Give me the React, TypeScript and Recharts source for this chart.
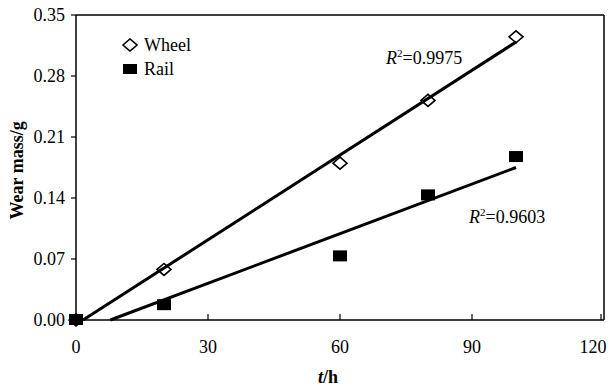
import { ComposedChart, Scatter, XAxis, YAxis, ReferenceLine } from 'recharts';

// time on test (h) and measured wear mass (g)
const wheelHours = [0, 20, 60, 80, 100];
const wheelMass = [0, 0.058, 0.18, 0.252, 0.325];
const railHours = [0, 20, 60, 80, 100];
const railMass = [0, 0.017, 0.073, 0.143, 0.187];

// linear fit end points
const wheelFitHours = [1.6, 100];
const wheelFitMass = [0, 0.319];
const railFitHours = [7.8, 100];
const railFitMass = [0, 0.175];

const tTicks = [0, 30, 60, 90, 120];
const massTicks = [0, 0.07, 0.14, 0.21, 0.28, 0.35];

const wheelR2 = '0.9975';
const railR2 = '0.9603';

const toPoints = (xs: number[], ys: number[]) => xs.map((t, i) => ({ t, m: ys[i] }));

const wheelData = toPoints(wheelHours, wheelMass);
const railData = toPoints(railHours, railMass);
const wheelFit = toPoints(wheelFitHours, wheelFitMass);
const railFit = toPoints(railFitHours, railFitMass);

const FONT = 'Liberation Serif';
const FS = 18;

const Diamond = ({ cx, cy }: any) => (
  <polygon
    points={`${cx - 7},${cy} ${cx},${cy - 6} ${cx + 7},${cy} ${cx},${cy + 6}`}
    fill="#fff"
    stroke="#000"
    strokeWidth={1.6}
  />
);

const Square = ({ cx, cy }: any) => <rect x={cx - 7} y={cy - 6} width={14} height={11} fill="#000" />;

// last label sits slightly left so it stays inside the picture
const XTick = ({ x, y, payload, index }: any) => (
  <g>
    <line x1={x} y1={y} x2={x} y2={y - 6} stroke="#000" strokeWidth={1.2} />
    <text
      x={index === tTicks.length - 1 ? x - 8 : x}
      y={y + 33}
      textAnchor="middle"
      fontSize={FS}
      fontFamily={FONT}
      fill="#000"
    >
      {payload.value}
    </text>
  </g>
);

const LegendBox = () => (
  <div
    style={{
      position: 'absolute',
      left: 122,
      top: 33,
      fontFamily: FONT,
      fontSize: FS,
      color: '#000',
      lineHeight: '24px',
    }}
  >
    <div style={{ display: 'flex', alignItems: 'center' }}>
      <svg width={16} height={14} style={{ marginRight: 6 }}>
        <polygon points="1,7 8,1 15,7 8,13" fill="#fff" stroke="#000" strokeWidth={1.6} />
      </svg>
      Wheel
    </div>
    <div style={{ display: 'flex', alignItems: 'center' }}>
      <svg width={16} height={14} style={{ marginRight: 6 }}>
        <rect x={1} y={2} width={14} height={10} fill="#000" />
      </svg>
      Rail
    </div>
  </div>
);

const R2 = ({ value, left, top }: { value: string; left: number; top: number }) => (
  <div style={{ position: 'absolute', left, top, fontFamily: FONT, fontSize: FS, color: '#000', lineHeight: '20px' }}>
    <i>R</i>
    <span style={{ fontSize: 11, verticalAlign: 7 }}>2</span>={value}
  </div>
);

export default function App() {
  return (
    <div style={{ position: 'absolute', left: 0, top: 0, width: 613, height: 388, background: '#fff' }}>
      <ComposedChart width={613} height={388} margin={{ top: 15, right: 9, bottom: 0, left: 0 }}>
        <XAxis
          type="number"
          dataKey="t"
          domain={[0, 120]}
          ticks={tTicks}
          tickSize={0}
          tickMargin={0}
          tick={<XTick />}
          height={68}
          axisLine={{ stroke: '#000', strokeWidth: 1.5 }}
          label={{
            value: 't/h',
            content: ({ viewBox }: any) => (
              <text
                x={viewBox.x + viewBox.width / 2 - 22}
                y={viewBox.y + 63}
                fontSize={FS}
                fontFamily={FONT}
                fontWeight="bold"
                fill="#000"
              >
                <tspan fontStyle="italic">t</tspan>/h
              </text>
            ),
          }}
        />
        <YAxis
          type="number"
          dataKey="m"
          domain={[0, 0.35]}
          ticks={massTicks}
          tickFormatter={(v: number) => v.toFixed(2)}
          width={76}
          tickSize={5}
          tickMargin={6}
          tickLine={{ stroke: '#000', strokeWidth: 1.2 }}
          axisLine={{ stroke: '#000', strokeWidth: 1.5 }}
          tick={{ fill: '#000', fontSize: FS, fontFamily: FONT }}
          label={{
            value: 'Wear mass/g',
            angle: -90,
            position: 'insideLeft',
            dx: 12,
            dy: 52,
            style: { fill: '#000', fontSize: FS, fontFamily: FONT, fontWeight: 'bold' },
          }}
        />
        <ReferenceLine x={120} stroke="#000" strokeWidth={1.5} />
        <ReferenceLine y={0.35} stroke="#000" strokeWidth={1.5} />
        <Scatter name="Wheel" data={wheelData} shape={<Diamond />} isAnimationActive={false} />
        <Scatter name="Rail" data={railData} shape={<Square />} isAnimationActive={false} />
        <Scatter
          data={wheelFit}
          line={{ stroke: '#000', strokeWidth: 3 }}
          shape={() => null}
          legendType="none"
          isAnimationActive={false}
        />
        <Scatter
          data={railFit}
          line={{ stroke: '#000', strokeWidth: 3 }}
          shape={() => null}
          legendType="none"
          isAnimationActive={false}
        />
      </ComposedChart>
      <LegendBox />
      <R2 value={wheelR2} left={386} top={43} />
      <R2 value={railR2} left={469} top={202} />
    </div>
  );
}
